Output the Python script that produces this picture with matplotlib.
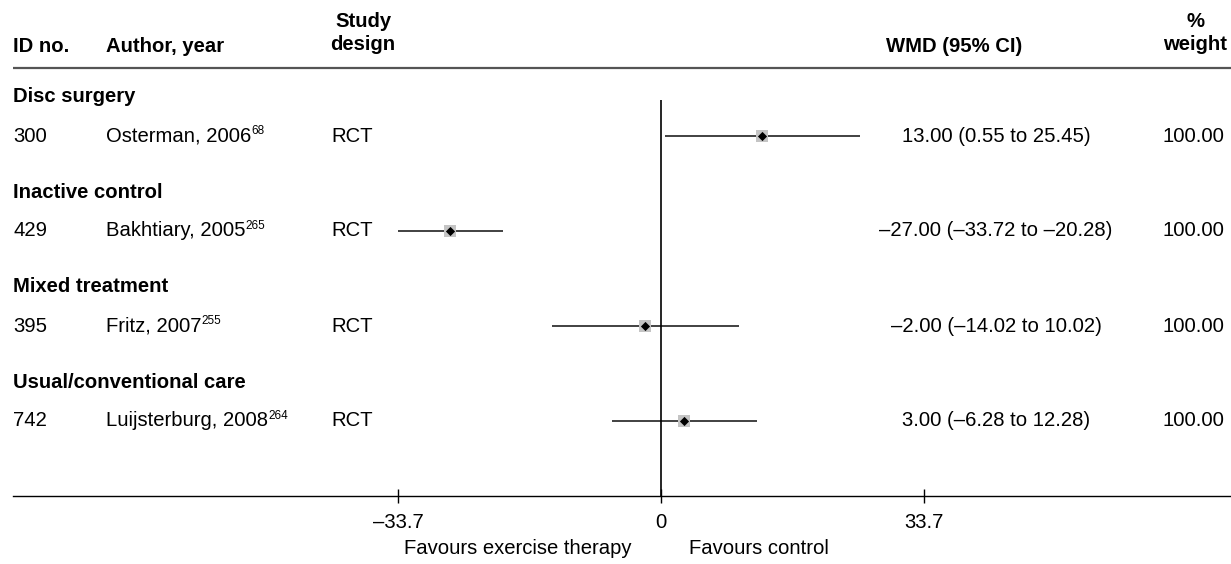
import matplotlib
matplotlib.use("Agg")
import matplotlib.pyplot as plt

plt.rcParams['font.family'] = ['Liberation Sans', 'DejaVu Sans']

# ---- data -------------------------------------------------------------
groups = ["Disc surgery", "Inactive control", "Mixed treatment", "Usual/conventional care"]
study_ids = ["300", "429", "395", "742"]
authors = ["Osterman, 2006", "Bakhtiary, 2005", "Fritz, 2007", "Luijsterburg, 2008"]
refs = ["68", "265", "255", "264"]
designs = ["RCT", "RCT", "RCT", "RCT"]
wmd = [13.00, -27.00, -2.00, 3.00]
ci_low = [0.55, -33.72, -14.02, -6.28]
ci_high = [25.45, -20.28, 10.02, 12.28]
weights = [100.00, 100.00, 100.00, 100.00]
tick_values = [-33.7, 0, 33.7]
favours_left = "Favours exercise therapy"
favours_right = "Favours control"

# ---- layout (pixel positions on a 1231 x 564 canvas) --------------------
W, H = 1231, 564
zero_px = 661
unit_px = (924 - 661) / 33.7
row_y = [136, 231, 326, 421]
group_y = [97, 192, 287, 382]
axis_y = 496
FS = 14.6


def px(p):
    """Horizontal pixel position -> effect-size units."""
    return (p - zero_px) / unit_px


def fmt(v):
    return f"{v:.2f}".replace("-", "\u2013")


fig = plt.figure(figsize=(W / 100, H / 100), dpi=100)
ax = fig.add_axes([0, 0, 1, 1])
ax.set_xlim(px(0), px(W))
ax.set_ylim(H, 0)
ax.axis("off")

# header
hdr = dict(fontsize=FS, fontweight="bold", va="center")
ax.text(px(13), 46, "ID no.", ha="left", **hdr)
ax.text(px(106), 46, "Author, year", ha="left", **hdr)
ax.text(px(363), 33, "Study\ndesign", ha="center", multialignment="center",
        linespacing=1.3, **hdr)
ax.text(px(954), 46, "WMD (95% CI)", ha="center", **hdr)
ax.text(px(1195), 33, "%\nweight", ha="center", multialignment="center",
        linespacing=1.3, **hdr)
ax.plot([px(13), px(W)], [68, 68], color="#555555", lw=1.6, solid_capstyle="butt")

# group headings and study rows
for g, gy in zip(groups, group_y):
    ax.text(px(13), gy, g, ha="left", va="center", fontsize=FS, fontweight="bold")

for i, y in enumerate(row_y):
    ax.text(px(13), y, study_ids[i], ha="left", va="center", fontsize=FS)
    t = ax.text(px(106), y, authors[i], ha="left", va="center", fontsize=FS)
    ax.annotate(refs[i], xy=(1, 1), xycoords=t, xytext=(0.3, 1.0),
                textcoords="offset points", ha="left", va="top", fontsize=FS * 0.58)
    ax.text(px(331), y, designs[i], ha="left", va="center", fontsize=FS)
    label = f"{fmt(wmd[i])} ({fmt(ci_low[i])} to {fmt(ci_high[i])})"
    ax.text(px(996), y, label, ha="center", va="center", fontsize=FS)
    ax.text(px(1224), y, f"{weights[i]:.2f}", ha="right", va="center", fontsize=FS)

# confidence intervals and point estimates
ax.hlines(row_y, ci_low, ci_high, color="#333333", lw=1.3, zorder=2)
ax.scatter(wmd, row_y, marker="s", s=80, color="#c4c4c4", zorder=3, linewidths=0)
ax.scatter(wmd, row_y, marker="D", s=22, color="black", zorder=4, linewidths=0)

# null line, axis, ticks
ax.vlines(0, 100, axis_y, color="black", lw=1.2)
ax.plot([px(13), px(W)], [axis_y, axis_y], color="black", lw=1.0)
ax.vlines(tick_values, axis_y - 7, axis_y + 7, color="black", lw=1.0)
for tv in tick_values:
    lab = "0" if tv == 0 else fmt(tv)[:-1]
    ax.text(tv, 522, lab, ha="center", va="center", fontsize=FS)

ax.text(px(631), 549, favours_left, ha="right", va="center", fontsize=FS)
ax.text(px(689), 549, favours_right, ha="left", va="center", fontsize=FS)

fig.savefig("out.png", dpi=100, facecolor="white")
